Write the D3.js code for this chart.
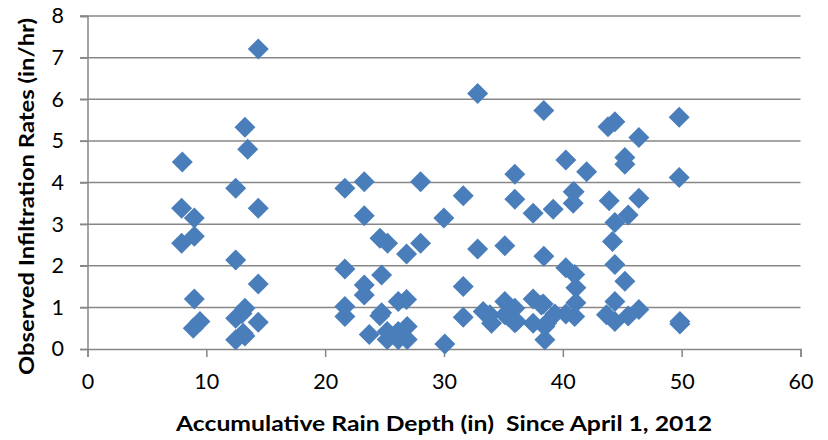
<!DOCTYPE html>
<html>
<head>
<meta charset="utf-8">
<script src="https://cdn.jsdelivr.net/npm/d3@7"></script>
<style>
  html, body { margin: 0; padding: 0; background: #fff; }
  svg { display: block; }
  text { white-space: pre; }
</style>
</head>
<body>
<svg id="chart" width="828" height="440"></svg>
<script>
// Accumulative rain depth (in) since April 1, 2012
const rainDepth = [
  7.98, 7.92, 8.99, 8.99, 7.92, 8.99, 9.46, 8.9,
  14.37, 13.25, 13.48, 12.47, 14.37, 12.47, 14.37, 13.25, 13.0, 12.47, 14.37, 13.25, 12.47, 13.1,
  21.66, 23.29, 28.03, 23.29, 24.61, 25.25, 26.85, 28.03, 21.66, 24.75, 23.29, 23.29,
  21.66, 21.66, 24.75, 24.6, 26.15, 26.85, 23.71, 25.22, 25.22, 26.15, 26.15, 26.9, 26.9,
  29.99, 30.07, 31.62, 31.62, 31.62, 32.83, 32.83,
  33.3, 33.86, 34.0, 35.12, 35.12, 35.4, 35.96, 35.96, 36.1, 35.96, 35.96, 35.12,
  37.5, 37.5, 37.5, 38.2, 38.4, 38.4, 38.49, 38.49, 38.63, 38.35, 39.19, 39.33,
  40.25, 40.25, 40.87, 40.87, 41.0, 41.1, 41.1, 40.25, 41.0, 40.95, 42.0,
  43.8, 44.38, 43.9, 44.38, 44.18, 44.38, 44.38, 43.67, 44.38, 45.22, 45.22, 45.22, 45.5, 45.5,
  46.4, 46.4, 46.4, 49.79, 49.79, 49.85, 49.85
];
// Observed infiltration rates (in/hr)
const infiltrationRate = [
  4.49, 3.38, 3.15, 2.71, 2.54, 1.20, 0.66, 0.50,
  7.21, 5.33, 4.80, 3.86, 3.38, 2.14, 1.56, 0.98, 0.85, 0.74, 0.64, 0.31, 0.22, 0.38,
  3.86, 4.02, 4.02, 3.20, 2.66, 2.54, 2.28, 2.54, 1.92, 1.78, 1.54, 1.30,
  1.02, 0.78, 0.87, 0.80, 1.14, 1.19, 0.35, 0.42, 0.23, 0.42, 0.23, 0.54, 0.23,
  3.15, 0.12, 3.68, 1.50, 0.76, 6.14, 2.40,
  0.90, 0.82, 0.62, 1.14, 2.48, 0.78, 4.20, 3.60, 0.66, 0.98, 0.63, 0.82,
  3.26, 1.20, 0.62, 1.06, 5.73, 2.23, 0.54, 0.22, 0.62, 1.08, 3.36, 0.84,
  4.54, 1.95, 3.78, 3.50, 1.79, 1.47, 1.11, 0.84, 0.78, 3.78, 4.26,
  5.34, 5.46, 3.56, 3.04, 2.58, 2.03, 1.14, 0.82, 0.66, 4.60, 4.44, 1.63, 3.22, 0.79,
  5.08, 3.62, 0.95, 5.57, 4.12, 0.66, 0.60
];
const xTicks = [0, 10, 20, 30, 40, 50, 60];
const yTicks = [0, 1, 2, 3, 4, 5, 6, 7, 8];
const xTitle = "Accumulative Rain Depth (in)  Since April 1, 2012";
const yTitle = "Observed Infiltration Rates (in/hr)";

const svg = d3.select("#chart");
const x = d3.scaleLinear().domain([0, 60]).range([87.5, 800.5]);
const y = d3.scaleLinear().domain([0, 8]).range([349, 16]);
const gridColor = "#878787";
const font = "Lato, 'Open Sans', sans-serif";

// Horizontal gridlines (with tick stubs to the left)
svg.append("g").selectAll("line").data(yTicks.filter(d => d > 0)).join("line")
  .attr("x1", 80).attr("x2", x(60))
  .attr("y1", d => y(d)).attr("y2", d => y(d))
  .attr("stroke", gridColor).attr("stroke-width", 1.5);

// Y axis
const yAxis = svg.append("g").attr("transform", `translate(${x(0)},0)`)
  .call(d3.axisLeft(y).tickValues(yTicks).tickSize(7.5).tickPadding(16).tickFormat(d3.format("d")));
yAxis.select(".domain").attr("stroke", gridColor).attr("stroke-width", 1.5);
yAxis.selectAll(".tick line").attr("stroke", gridColor).attr("stroke-width", 1.5);
yAxis.selectAll("text").attr("font-family", font).attr("font-size", 21.5).attr("fill", "#000");

// X axis
const xAxis = svg.append("g").attr("transform", `translate(0,${y(0)})`)
  .call(d3.axisBottom(x).tickValues(xTicks).tickSize(8).tickPadding(17).tickFormat(d3.format("d")));
xAxis.select(".domain").attr("stroke", gridColor).attr("stroke-width", 1.5);
xAxis.selectAll(".tick line").attr("stroke", gridColor).attr("stroke-width", 1.5);
xAxis.selectAll("text").attr("font-family", font).attr("font-size", 21.5).attr("fill", "#000");

// Points
const pts = rainDepth.map((d, i) => ({ x: d, y: infiltrationRate[i] }));
const r = 10.5;
svg.append("g").selectAll("path").data(pts).join("path")
  .attr("d", `M0,${-r}L${r},0L0,${r}L${-r},0Z`)
  .attr("transform", d => `translate(${x(d.x)},${y(d.y)})`)
  .attr("fill", "#4a7ebb");

// Titles
svg.append("text")
  .attr("x", 176).attr("y", 431)
  .attr("textLength", 536).attr("lengthAdjust", "spacingAndGlyphs")
  .attr("font-family", font).attr("font-weight", "bold").attr("font-size", 21)
  .text(xTitle);

svg.append("text")
  .attr("transform", `translate(34,375) rotate(-90)`)
  .attr("textLength", 357).attr("lengthAdjust", "spacingAndGlyphs")
  .attr("font-family", font).attr("font-weight", "bold").attr("font-size", 21)
  .text(yTitle);
</script>
</body>
</html>
